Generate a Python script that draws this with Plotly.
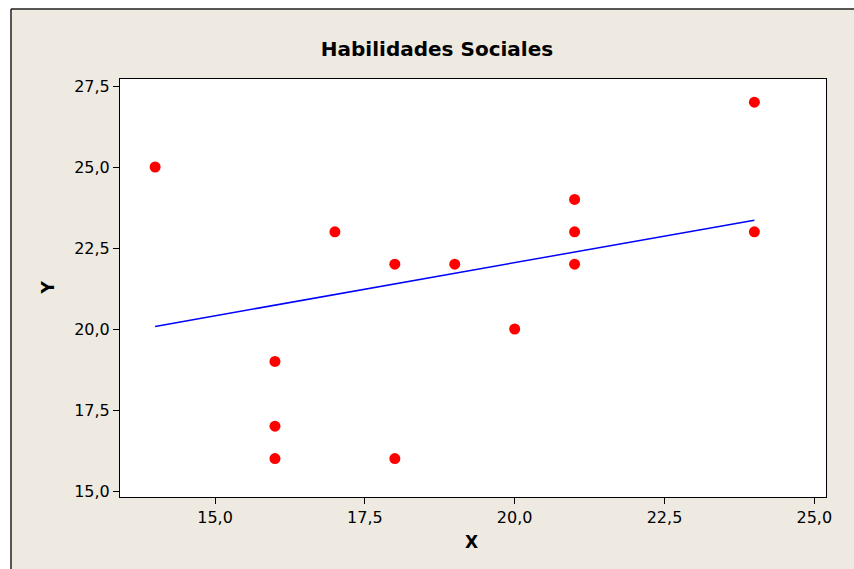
import plotly.graph_objects as go

# Data
x_vals = [14, 16, 16, 16, 17, 18, 18, 19, 20, 21, 21, 21, 24, 24]
y_vals = [25, 19, 17, 16, 23, 22, 16, 22, 20, 24, 23, 22, 27, 23]
fit_x = [14, 24]
fit_y = [20.08, 23.36]
x_ticks = [15.0, 17.5, 20.0, 22.5, 25.0]
y_ticks = [15.0, 17.5, 20.0, 22.5, 25.0, 27.5]

W, H = 854, 569
L, R, T, B = 120, 28, 79, 72
PW, PH = W - L - R, H - T - B

def px_x(px):
    return (px - L) / PW

def px_y(py):
    return (H - B - py) / PH

BEIGE = "rgb(238,234,225)"
FONT = "DejaVu Sans"

fig = go.Figure()
fig.add_trace(go.Scatter(x=fit_x, y=fit_y, mode="lines",
                         line=dict(color="#0000FF", width=1.5),
                         showlegend=False, hoverinfo="skip"))
fig.add_trace(go.Scatter(x=x_vals, y=y_vals, mode="markers",
                         marker=dict(color="#FF0000", size=11, line=dict(width=0)),
                         showlegend=False))

axis_common = dict(showline=True, mirror=True, linecolor="black", linewidth=1,
                   ticks="outside", ticklen=6, tickwidth=1, tickcolor="black",
                   showgrid=False, zeroline=False, tickformat=".1f",
                   tickfont=dict(family=FONT, size=16, color="black"))

fig.update_xaxes(range=[13.414, 25.195], tickvals=x_ticks, **axis_common)
fig.update_yaxes(range=[14.815, 27.716], tickvals=y_ticks, **axis_common)

shapes = [
    # white strips outside the outer frame
    dict(type="rect", xref="paper", yref="paper", x0=px_x(0), x1=px_x(10.5),
         y0=px_y(H), y1=px_y(0), fillcolor="white", line=dict(width=0), layer="above"),
    dict(type="rect", xref="paper", yref="paper", x0=px_x(0), x1=px_x(W),
         y0=px_y(8.5), y1=px_y(0), fillcolor="white", line=dict(width=0), layer="above"),
    # outer frame lines
    dict(type="line", xref="paper", yref="paper", x0=px_x(11), x1=px_x(11),
         y0=px_y(9), y1=px_y(H), line=dict(color="#222222", width=1.5)),
    dict(type="line", xref="paper", yref="paper", x0=px_x(11), x1=px_x(W),
         y0=px_y(9), y1=px_y(9), line=dict(color="#222222", width=1.5)),
]

annotations = [
    dict(text="<b>X</b>", xref="paper", yref="paper", x=px_x(471), y=px_y(541.5),
         xanchor="center", yanchor="middle", showarrow=False,
         font=dict(family=FONT, size=17, color="black")),
    dict(text="<b>Y</b>", xref="paper", yref="paper", x=px_x(47.5), y=px_y(288),
         xanchor="center", yanchor="middle", showarrow=False, textangle=-90,
         font=dict(family=FONT, size=17, color="black")),
]

fig.update_layout(
    width=W, height=H,
    margin=dict(l=L, r=R, t=T, b=B, pad=0),
    paper_bgcolor=BEIGE, plot_bgcolor="white",
    separators=",.",
    title=dict(text="<b>Habilidades Sociales</b>", xref="container", yref="container",
               x=437 / W, y=1 - 48.7 / H, xanchor="center", yanchor="middle",
               font=dict(family=FONT, size=20, color="black")),
    shapes=shapes, annotations=annotations,
)

fig.write_html("out.html")
